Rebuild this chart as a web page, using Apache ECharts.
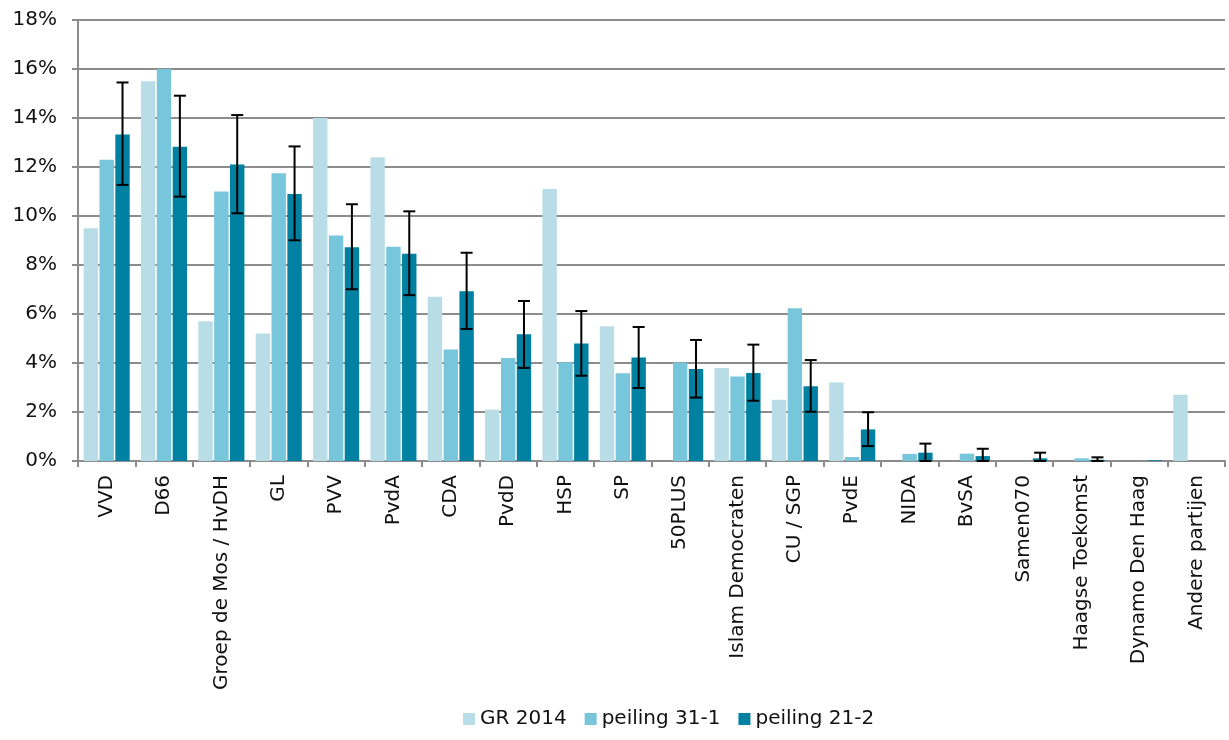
<!DOCTYPE html>
<html>
<head>
<meta charset="utf-8">
<script src="https://cdn.jsdelivr.net/npm/echarts@6/dist/echarts.min.js"></script>
<style>
html,body{margin:0;padding:0;background:#fff;}
#chart{width:1229px;height:740px;}
</style>
</head>
<body>
<div id="chart"></div>
<script>
var categories = ['VVD','D66','Groep de Mos / HvDH','GL','PVV','PvdA','CDA','PvdD','HSP','SP','50PLUS','Islam Democraten','CU / SGP','PvdE','NIDA','BvSA','Samen070','Haagse Toekomst','Dynamo Den Haag','Andere partijen'];
var gr2014 =    [9.5, 15.5, 5.7, 5.2, 14.0, 12.4, 6.7, 2.1, 11.1, 5.5, 0, 3.8, 2.5, 3.2, 0, 0, 0, 0, 0, 2.7];
var peiling311 =[12.3, 16.0, 11.0, 11.75, 9.2, 8.75, 4.55, 4.2, 4.03, 3.58, 4.02, 3.45, 6.23, 0.16, 0.29, 0.3, 0, 0.11, 0, 0];
var peiling212 =[13.33, 12.83, 12.1, 10.9, 8.72, 8.46, 6.93, 5.17, 4.8, 4.22, 3.76, 3.59, 3.05, 1.29, 0.34, 0.2, 0.11, 0.05, 0.03, 0];
var errLow =    [11.27, 10.79, 10.11, 9.01, 7.01, 6.77, 5.39, 3.8, 3.48, 2.98, 2.59, 2.46, 2.01, 0.61, 0, 0, 0, 0, null, null];
var errHigh =   [15.45, 14.91, 14.12, 12.84, 10.48, 10.19, 8.5, 6.53, 6.12, 5.47, 4.94, 4.75, 4.12, 1.99, 0.71, 0.5, 0.34, 0.15, null, null];
var yTicks = [0, 2, 4, 6, 8, 10, 12, 14, 16, 18];

var BAR_W = 14.4, GAP = 0.1;
var offset = BAR_W * (1 + GAP);
var errData = [];
for (var i = 0; i < categories.length; i++) {
  if (errLow[i] !== null) errData.push([i, errLow[i], errHigh[i]]);
}

var font = 'DejaVu Sans, Verdana, sans-serif';
var chart = echarts.init(document.getElementById('chart'));
chart.setOption({
  animation: false,
  textStyle: {fontFamily: font, color: '#111'},
  grid: {left: 78, right: 4, top: 20, bottom: 279, containLabel: false},
  legend: {
    data: ['GR 2014', 'peiling 31-1', 'peiling 21-2'],
    bottom: 6, left: 458,
    icon: 'rect', itemWidth: 12, itemHeight: 12, itemGap: 18,
    textStyle: {fontFamily: font, fontSize: 20, color: '#111'}
  },
  xAxis: {
    type: 'category', data: categories,
    axisLine: {lineStyle: {color: '#8c8c8c', width: 2}},
    axisTick: {show: true, length: 6, lineStyle: {color: '#8c8c8c', width: 2}},
    axisLabel: {rotate: 90, fontSize: 20, margin: 14, color: '#111', fontFamily: font, interval: 0}
  },
  yAxis: {
    type: 'value', min: 0, max: 18, interval: 2,
    axisLine: {show: true, lineStyle: {color: '#8c8c8c', width: 2}},
    axisTick: {show: true, length: 6, lineStyle: {color: '#8c8c8c', width: 2}},
    splitLine: {lineStyle: {color: '#8c8c8c', width: 2}},
    axisLabel: {fontSize: 20, margin: 21, color: '#111', fontFamily: font,
      formatter: function (v) { return yTicks.indexOf(v) >= 0 ? v + '%' : ''; }}
  },
  series: [
    {name: 'GR 2014', type: 'bar', data: gr2014, barWidth: BAR_W, barGap: (GAP*100)+'%', itemStyle: {color: '#b8dde7'}},
    {name: 'peiling 31-1', type: 'bar', data: peiling311, barWidth: BAR_W, itemStyle: {color: '#78c6dc'}},
    {name: 'peiling 21-2', type: 'bar', data: peiling212, barWidth: BAR_W, itemStyle: {color: '#0081a2'}},
    {
      name: 'err', type: 'custom', data: errData, z: 10,
      encode: {x: 0, y: [1, 2]},
      renderItem: function (params, api) {
        var idx = api.value(0);
        var lo = api.coord([idx, api.value(1)]);
        var hi = api.coord([idx, api.value(2)]);
        var x = lo[0] + offset;
        var cap = 6;
        var st = {stroke: '#000', lineWidth: 2};
        return {type: 'group', children: [
          {type: 'line', shape: {x1: x, y1: hi[1], x2: x, y2: lo[1]}, style: st},
          {type: 'line', shape: {x1: x - cap, y1: hi[1], x2: x + cap, y2: hi[1]}, style: st},
          {type: 'line', shape: {x1: x - cap, y1: lo[1], x2: x + cap, y2: lo[1]}, style: st}
        ]};
      }
    }
  ]
});
</script>
</body>
</html>
